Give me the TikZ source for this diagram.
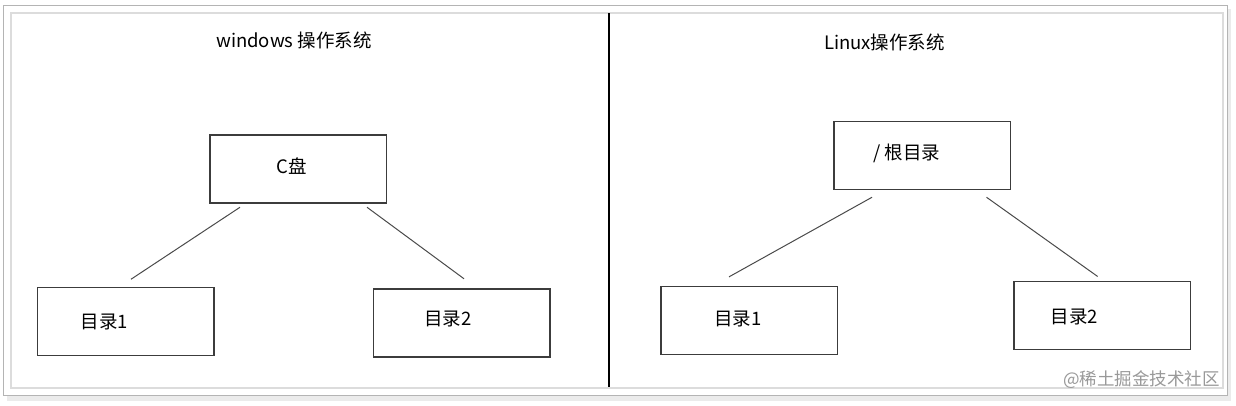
\documentclass[tikz,border=0pt]{standalone}
\usepackage{fontspec}
\setmainfont{Noto Sans CJK SC}
\usepackage{tikz}
\usetikzlibrary{positioning,calc}
\definecolor{framegray}{HTML}{B4B4B4}
\definecolor{innergray}{HTML}{DCDCDC}
\definecolor{boxline}{HTML}{3C3C3C}
\definecolor{linkline}{HTML}{4A4A4A}
\tikzset{
	%Define style for boxes
	dirbox/.style={
	       rectangle,
	       draw=boxline, line width=1.5pt,
	       minimum width=176.5pt,
	       minimum height=68pt,
	       inner sep=0pt},
	%Define style for texts
	boxtext/.style={
	       font=\fontsize{18.5pt}{20pt}\selectfont,
	       text=black,
	       inner sep=0pt},
	% Define line style
	link/.style={
	       draw=linkline,
	       line width=1pt}
}
\begin{document}
\begin{tikzpicture}[x=1pt, y=-1pt] % pixel grid, y downwards
	\useasboundingbox[fill=white] (0,0) rectangle (1236,405);
	% frame with shadow
	\fill[black!8] (7,395) rectangle (1231,401);
	\fill[black!8] (1227,9) rectangle (1231,401);
	\draw[framegray, line width=1pt] (3.5,5.5) rectangle (1227,395);
	\draw[innergray, line width=2pt] (10.5,13) rectangle (1222.5,388);
	\draw[black, line width=1.5pt] (609,13) -- (609,387);
	% windows side
	\node[boxtext](win_title) at (294,40){windows 操作系统};
	\node[dirbox, label={[boxtext, name=cdisk_t, xshift=-6pt, yshift=3pt]center:C盘}](cdisk) at (298,169){};
	\node[dirbox, label={[boxtext, name=win_dir1_t, xshift=-21pt]center:目录1}](win_dir1) at (125.5,321.7){};
	\node[dirbox, label={[boxtext, name=win_dir2_t, xshift=-13.5pt, yshift=4pt]center:目录2}](win_dir2) at (461.5,323){};
	\draw[link] ([xshift=-58pt, yshift=-3.5pt]cdisk.south) -- ([xshift=5.5pt, yshift=7.7pt]win_dir1.north);
	\draw[link] ([xshift=69pt, yshift=-3.5pt]cdisk.south) -- ([xshift=2.5pt, yshift=9.5pt]win_dir2.north);
	% linux side
	\node[boxtext](lin_title) at (884.5,42){Linux操作系统};
	\node[dirbox, label={[boxtext, name=root_t, xshift=-15pt, yshift=2.5pt]center:/ 根目录}](root) at (922,155.5){};
	\node[dirbox, label={[boxtext, name=lin_dir1_t, xshift=-11pt, yshift=1pt]center:目录1}](lin_dir1) at (749,320.3){};
	\node[dirbox, label={[boxtext, name=lin_dir2_t, xshift=-27.5pt, yshift=-1pt]center:目录2}](lin_dir2) at (1102,315.5){};
	\draw[link] ([xshift=-50pt, yshift=-7pt]root.south) -- ([xshift=-20pt, yshift=8.7pt]lin_dir1.north);
	\draw[link] ([xshift=64.5pt, yshift=-7pt]root.south) -- ([xshift=-4.4pt, yshift=4.3pt]lin_dir2.north);
	% watermark
	\node[boxtext, text=black!40, anchor=east, font=\fontsize{17.5pt}{19pt}\selectfont](mark) at (1220,380){@稀土掘金技术社区};
\end{tikzpicture}
\end{document}
